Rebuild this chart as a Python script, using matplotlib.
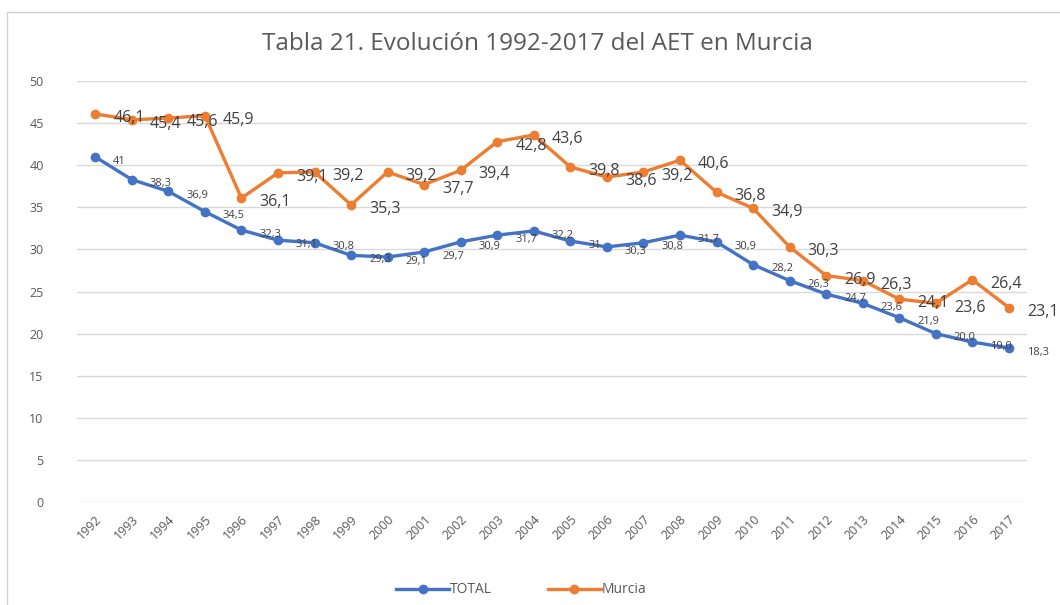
import matplotlib.pyplot as plt
from matplotlib.patches import Rectangle

plt.rcParams['font.family'] = ['Open Sans', 'DejaVu Sans']

years = [str(y) for y in range(1992, 2018)]
total = [41, 38.3, 36.9, 34.5, 32.3, 31.1, 30.8, 29.3, 29.1, 29.7, 30.9, 31.7, 32.2,
         31, 30.3, 30.8, 31.7, 30.9, 28.2, 26.3, 24.7, 23.6, 21.9, 20.0, 19.0, 18.3]
murcia = [46.1, 45.4, 45.6, 45.9, 36.1, 39.1, 39.2, 35.3, 39.2, 37.7, 39.4, 42.8, 43.6,
          39.8, 38.6, 39.2, 40.6, 36.8, 34.9, 30.3, 26.9, 26.3, 24.1, 23.6, 26.4, 23.1]
total_labels = ['41', '38,3', '36,9', '34,5', '32,3', '31,1', '30,8', '29,3', '29,1', '29,7',
                '30,9', '31,7', '32,2', '31', '30,3', '30,8', '31,7', '30,9', '28,2', '26,3',
                '24,7', '23,6', '21,9', '20,0', '19,0', '18,3']
murcia_labels = [f'{v:.1f}'.replace('.', ',') for v in murcia]

blue = '#4472C4'
orange = '#ED7D31'
grey = '#595959'

fig = plt.figure(figsize=(10.6, 6.05), dpi=100)
ax = fig.add_axes([0.0726, 0.1702, 0.8964, 0.6958])

x = list(range(len(years)))
ax.plot(x, total, color=blue, lw=2.4, marker='o', ms=6, label='TOTAL', zorder=3)
ax.plot(x, murcia, color=orange, lw=2.4, marker='o', ms=6, label='Murcia', zorder=3)

for i in x:
    ax.annotate(total_labels[i], (i, total[i]), xytext=(13, -3), textcoords='offset points',
                ha='left', va='center', fontsize=8, color='#404040', zorder=4)
    ax.annotate(murcia_labels[i], (i, murcia[i]), xytext=(13, -3), textcoords='offset points',
                ha='left', va='center', fontsize=11.5, color='#404040', zorder=4)

ax.set_xlim(-0.5, len(years) - 0.5)
ax.set_ylim(0, 50)
ax.set_yticks(range(0, 51, 5))
ax.set_xticks(x)
ax.set_xticklabels(years, rotation=45, ha='right', rotation_mode='anchor')
ax.tick_params(axis='both', length=0, labelsize=9, colors=grey)
ax.tick_params(axis='y', pad=24)
ax.tick_params(axis='x', pad=8)
ax.grid(axis='y', color='#D9D9D9', lw=1)
ax.set_axisbelow(True)
for s in ax.spines.values():
    s.set_visible(False)

fig.text(0.507, 0.928, 'Tabla 21. Evolución 1992-2017 del AET en Murcia',
         ha='center', va='center', fontsize=17.5, color=grey)

fig.legend(loc='center', bbox_to_anchor=(0.492, 0.025), ncol=2, frameon=False,
           fontsize=10, labelcolor=grey, handlelength=3.8, columnspacing=4,
           handletextpad=0.1)

fig.patches.append(Rectangle((0.0066, -0.01), 1.1, 0.99, transform=fig.transFigure,
                             fill=False, edgecolor='#D0D0D0', lw=1))

fig.savefig('out.png', dpi=100)
